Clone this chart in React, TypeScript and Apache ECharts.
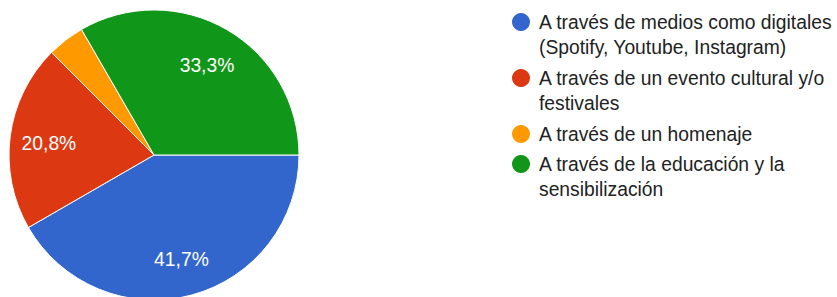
import React, { useEffect, useRef } from "react";
import * as echarts from "echarts";

const categories = [
  "A través de medios como digitales (Spotify, Youtube, Instagram)",
  "A través de un evento cultural y/o festivales",
  "A través de un homenaje",
  "A través de la educación y la sensibilización",
];
const legendLines = [
  ["A través de medios como digitales", "(Spotify, Youtube, Instagram)"],
  ["A través de un evento cultural y/o", "festivales"],
  ["A través de un homenaje"],
  ["A través de la educación y la", "sensibilización"],
];
const values = [10, 5, 1, 8];
const colors = ["#3366CC", "#DC3912", "#FF9900", "#109618"];
const hiddenLabels = [false, false, true, false];

const FONT = "Arial, 'Liberation Sans', sans-serif";

export default function App() {
  const ref = useRef<HTMLDivElement>(null);
  useEffect(() => {
    if (!ref.current) return;
    const chart = echarts.init(ref.current, null, { renderer: "svg" });

    const data = categories.map((name, i) => ({
      name,
      value: values[i],
      itemStyle: { color: colors[i] },
    }));
    const labelData = categories.map((name, i) => ({
      name,
      value: values[i],
      label: { show: !hiddenLabels[i] },
    }));

    // legend via graphic
    const legendX = 521;
    const textX = 539;
    const lineH = 25;
    const itemGap = 30;
    const graphics: any[] = [];
    let y = 22;
    legendLines.forEach((lines, i) => {
      graphics.push({
        type: "circle",
        shape: { cx: legendX, cy: y, r: 9 },
        style: { fill: colors[i] },
        silent: true,
      });
      lines.forEach((t, j) => {
        graphics.push({
          type: "text",
          x: textX,
          y: y + j * lineH,
          style: {
            text: t,
            fill: "#222222",
            fontSize: 19.3,
            fontFamily: FONT,
            verticalAlign: "middle",
            align: "left",
          },
          silent: true,
        });
      });
      y += (lines.length - 1) * lineH + itemGap + (lines.length > 1 ? 1 : 0);
    });

    chart.setOption({
      animation: false,
      backgroundColor: "#ffffff",
      graphic: graphics,
      series: [
        {
          type: "pie",
          center: [154, 155],
          radius: [0, 145],
          startAngle: 0,
          clockwise: true,
          silent: true,
          label: { show: false },
          labelLine: { show: false },
          itemStyle: { borderColor: "#ffffff", borderWidth: 1 },
          data,
        },
        {
          type: "pie",
          center: [154, 155],
          radius: [61, 145],
          startAngle: 0,
          clockwise: true,
          silent: true,
          itemStyle: { color: "transparent" },
          label: {
            show: true,
            position: "inside",
            color: "#ffffff",
            fontSize: 19.3,
            fontFamily: FONT,
            offset: [0, 2],
            formatter: (p: any) => p.percent.toFixed(1).replace(".", ",") + "%",
          },
          labelLine: { show: false },
          data: labelData,
        },
      ],
    });
    return () => chart.dispose();
  }, []);
  return (
    <div
      ref={ref}
      style={{ position: "fixed", left: 0, top: 0, width: 837, height: 297 }}
    />
  );
}
